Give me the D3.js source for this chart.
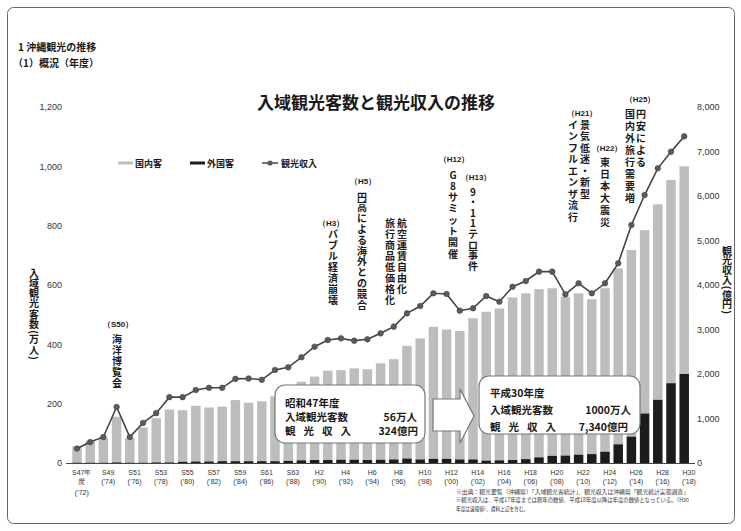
<!DOCTYPE html>
<html><head><meta charset="utf-8">
<script src="https://cdn.jsdelivr.net/npm/d3@7"></script>
<style>
body{margin:0;background:#fff}
svg{display:block}
text{font-family:"Noto Sans CJK JP","Noto Sans",sans-serif;fill:#1a1a1a}
.num{font-family:"Liberation Sans",Arial,sans-serif}
</style>
</head><body><svg id="c" width="741" height="531"></svg>
<script>
// ---- data ----
const years = [1972,1973,1974,1975,1976,1977,1978,1979,1980,1981,1982,1983,1984,1985,1986,1987,1988,
  1989,1990,1991,1992,1993,1994,1995,1996,1997,1998,
  1999,2000,2001,2002,2003,2004,2005,2006,2007,2008,
  2009,2010,2011,2012,2013,2014,2015,2016,2017,2018];
// 国内客 (万人)
const domestic = [55,73,83,154,83,119,149,178,174,188,182,184,206,197,202,219,233,
  265,281,301,302,308,306,325,338,380,408,
  445,436,433,476,502,512,548,559,567,565,
  535,544,522,551,593,629,618,659,685,700];
// 外国客 (万人)
const foreign = [1,1,1,2,1,1,2,2,4,5,5,6,6,6,6,6,7,
  9,10,10,11,11,10,11,12,15,12,
  14,14,12,12,8,9,10,13,19,24,
  25,28,30,38,63,89,167,213,269,300];
// 観光収入 (億円)
const revenue = [324,470,585,1260,585,900,1120,1480,1480,1640,1690,1690,1890,1900,1870,2090,2150,
  2375,2614,2764,2801,2749,2779,2914,3064,3363,3528,
  3813,3798,3423,3476,3753,3625,3962,4090,4300,4300,
  3790,4038,3813,4038,4487,5348,6022,6622,6996,7340];
const tickYears = [1972,1974,1976,1978,1980,1982,1984,1986,1988,1990,1992,1994,1996,1998,2000,2002,2004,2006,2008,2010,2012,2014,2016,2018];
const tickLabels = [["S47年","度","(’72)"],["S49","(’74)"],["S51","(’76)"],["S53","(’78)"],["S55","(’80)"],["S57","(’82)"],["S59","(’84)"],["S61","(’86)"],["S63","(’88)"],["H2","(’90)"],["H4","(’92)"],["H6","(’94)"],["H8","(’96)"],["H10","(’98)"],["H12","(’00)"],["H14","(’02)"],["H16","(’04)"],["H18","(’06)"],["H20","(’08)"],["H22","(’10)"],["H24","(’12)"],["H26","(’14)"],["H28","(’16)"],["H30","(’18)"]];
const leftTicks = [0,200,400,600,800,1000,1200];
const rightTicks = [0,1000,2000,3000,4000,5000,6000,7000,8000];
const seriesNames = ["国内客","外国客","観光収入"];

// ---- drawing ----
const svg = d3.select("#c");
svg.append("rect").attr("x",7.5).attr("y",7.5).attr("width",727).attr("height",516).attr("rx",6)
  .attr("fill","none").attr("stroke","#666").attr("stroke-width",1);

const x = d3.scaleBand().domain(years).range([70.4, 690.8]).paddingInner(0.28).paddingOuter(0.14);
const yL = d3.scaleLinear().domain([0,1200]).range([463,107]);
const yR = d3.scaleLinear().domain([0,8000]).range([463,107]);
const cx = d => x(d) + x.bandwidth()/2;

const rows = years.map((y,i)=>({year:y, dom:domestic[i], fr:foreign[i], rev:revenue[i]}));

// header
svg.append("text").attr("x",18).attr("y",51).attr("font-size",10).attr("font-weight","bold").text("1 沖縄観光の推移");
svg.append("text").attr("x",13).attr("y",67).attr("font-size",10).attr("font-weight","bold").text("（1）概況（年度）");
svg.append("text").attr("x",376).attr("y",109).attr("text-anchor","middle").attr("font-size",17).attr("font-weight","bold").text("入域観光客数と観光収入の推移");

// bars
const g = svg.append("g");
g.selectAll(".dom").data(rows).join("rect").attr("class","dom")
  .attr("x",d=>x(d.year)).attr("width",x.bandwidth())
  .attr("y",d=>yL(d.dom+d.fr)).attr("height",d=>yL(d.fr)-yL(d.dom+d.fr))
  .attr("fill","#bdbdbd");
g.selectAll(".fr").data(rows).join("rect").attr("class","fr")
  .attr("x",d=>x(d.year)).attr("width",x.bandwidth())
  .attr("y",d=>yL(d.fr)).attr("height",d=>yL(0)-yL(d.fr))
  .attr("fill","#1c1c1c");

// baseline
svg.append("line").attr("x1",66).attr("x2",695).attr("y1",yL(0)+0.5).attr("y2",yL(0)+0.5).attr("stroke","#444");

// revenue line
const line = d3.line().x(d=>cx(d.year)).y(d=>yR(d.rev));
svg.append("path").datum(rows).attr("d",line).attr("fill","none").attr("stroke","#444").attr("stroke-width",1.6);
svg.selectAll(".pt").data(rows).join("circle").attr("class","pt")
  .attr("cx",d=>cx(d.year)).attr("cy",d=>yR(d.rev)).attr("r",2.8).attr("fill","#5a5a5a").attr("stroke","#444").attr("stroke-width",0.6);

// axes
const aL = svg.append("g").attr("transform","translate(62,0)")
  .call(d3.axisLeft(yL).tickValues(leftTicks).tickFormat(d3.format(",")).tickSize(0).tickPadding(0));
const aR = svg.append("g").attr("transform","translate(697,0)")
  .call(d3.axisRight(yR).tickValues(rightTicks).tickFormat(d3.format(",")).tickSize(0).tickPadding(0));
[aL,aR].forEach(a=>{a.select(".domain").remove();
  a.selectAll("text").attr("class","num").attr("font-size",9).style("fill","#333");});

const aB = svg.append("g").attr("transform",`translate(0,${yL(0)})`)
  .call(d3.axisBottom(x).tickValues(tickYears).tickSize(0).tickFormat(""));
aB.select(".domain").remove();
aB.selectAll(".tick").each(function(d){
  const lab = tickLabels[tickYears.indexOf(d)];
  const t = d3.select(this).append("text").attr("class","num").attr("text-anchor","middle")
    .attr("x",x.bandwidth()/2).attr("font-size",7).style("fill","#333");
  const offs = lab.length===3 ? [11.5,20.5,31.5] : [11.5,20.5];
  lab.forEach((s,i)=>t.append("tspan").attr("x",x.bandwidth()/2).attr("y",offs[i]).text(s));
});

// vertical text helper: one character per line, stacked top to bottom
function vtext(xp, y0, str, size, step){
  let y = y0;
  for (const ch of str){
    const paren = "()".includes(ch);
    if (paren) y -= step*0.15;
    const t = svg.append("text").attr("x",xp).attr("y",y).attr("text-anchor","middle")
      .attr("dominant-baseline","central").attr("font-size",size).attr("font-weight","bold").text(ch);
    if (paren) t.attr("transform",`rotate(90,${xp},${y})`);
    y += paren ? step*0.65 : step;
  }
}
vtext(34, 272, "入域観光客数(万人)", 10, 10.3);
vtext(727, 250, "観光収入(億円)", 10, 9.8);

// legend
const lg = svg.append("g");
lg.append("line").attr("x1",118).attr("x2",133).attr("y1",163).attr("y2",163).attr("stroke","#bdbdbd").attr("stroke-width",3);
lg.append("text").attr("x",135).attr("y",166.5).attr("font-size",9).attr("font-weight","bold").text(seriesNames[0]);
lg.append("line").attr("x1",190).attr("x2",205).attr("y1",163).attr("y2",163).attr("stroke","#1c1c1c").attr("stroke-width",3);
lg.append("text").attr("x",207).attr("y",166.5).attr("font-size",9).attr("font-weight","bold").text(seriesNames[1]);
lg.append("line").attr("x1",262).attr("x2",278).attr("y1",163).attr("y2",163).attr("stroke","#444").attr("stroke-width",1.5);
lg.append("circle").attr("cx",270).attr("cy",163).attr("r",2.6).attr("fill","#5a5a5a");
lg.append("text").attr("x",281).attr("y",166.5).attr("font-size",9).attr("font-weight","bold").text(seriesNames[2]);

// annotations
function label(xp, yp, s){
  svg.append("text").attr("x",xp).attr("y",yp).attr("text-anchor","middle").attr("dominant-baseline","central")
    .attr("class","num").attr("font-size",8).attr("font-weight","bold").text(s);
}
label(118,324,"（S50）"); vtext(117,338,"海洋博覧会",10,11);
label(331,223,"（H3）"); vtext(333,233,"バブル経済崩壊",10,11);
label(363,181,"（H5）"); vtext(362,196,"円高による海外との競合",10,10.8);
vtext(402,222,"航空運賃自由化",10,11); vtext(390,222,"旅行商品低価格化",10,11);
label(454,159,"（H12）"); vtext(453,174,"G8サミット開催",10,11.3);
label(476,177,"（H13）"); vtext(473,191,"9・11テロ事件",10,10.6);
label(582,113,"（H21）"); vtext(585,124,"景気低迷・新型",10,11.5); vtext(573,124,"インフルエンザ流行",10,11.5);
label(607,148,"（H22）"); vtext(605,161,"東日本大震災",10,12);
label(640,99,"（H25）"); vtext(641,113,"円安による",10,12); vtext(630,113,"国内外旅行需要増",10,12);

// boxes
function box(bx,by,bw,bh){
  svg.append("rect").attr("x",bx).attr("y",by).attr("width",bw).attr("height",bh).attr("rx",10)
    .attr("fill","#fff").attr("stroke","#777").attr("stroke-width",1.2);
}
function btext(xp,yp,s,anchor,len){
  const t = svg.append("text").attr("x",xp).attr("y",yp).attr("font-size",10.5).attr("font-weight","bold")
    .attr("text-anchor",anchor||"start").text(s);
  if (len) t.attr("textLength",len).attr("lengthAdjust","spacing");
}
box(275,385,150,58);
btext(285,407,"昭和47年度");
btext(285,421,"入域観光客数");
btext(285,435,"観光収入","start",66);
btext(417,421,"56万人","end");
btext(418,435,"324億円","end");

svg.append("polygon").attr("points",[[433,399],[460,399],[460,389],[474,416],[460,443],[460,431],[433,431]].join(" "))
  .attr("fill","#fff").attr("stroke","#777").attr("stroke-width",1.2);

box(479,376,161,58);
btext(490,397,"平成30年度");
btext(490,414,"入域観光客数");
btext(490,431,"観光収入","start",66);
btext(631,414,"1000万人","end");
btext(628,431,"7,340億円","end");

// footnote
const fn = ["※出典：観光要覧（沖縄県）「入域観光客統計」、観光収入は沖縄県「観光統計実態調査」",
  "※観光収入は、平成17年度までは暦年の数値、平成18年度以降は年度の数値となっている。（H30",
  "年度は速報値）、資料上記を含む。"];
const fl = [233,233,72];
fn.forEach((s,i)=>svg.append("text").attr("x",456).attr("y",494+i*8.3).attr("font-size",5.5)
  .attr("textLength",fl[i]).attr("lengthAdjust","spacingAndGlyphs").style("fill","#333").text(s));
</script>
</body></html>
